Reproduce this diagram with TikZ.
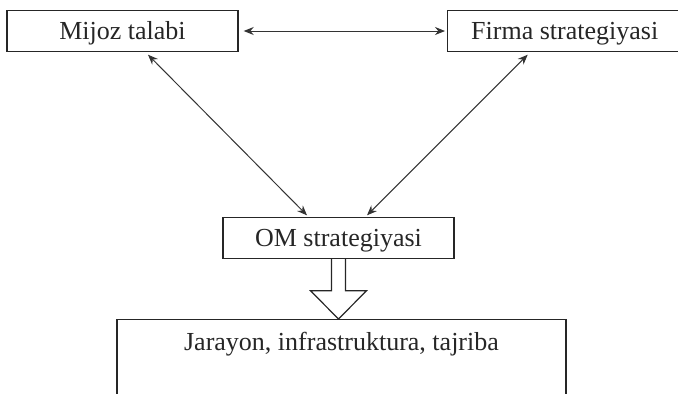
\documentclass[tikz,border=0pt]{standalone}
\usepackage{fontspec}
\setmainfont{Liberation Serif}
\usetikzlibrary{calc,arrows.meta}
\tikzset{
	blok/.style={draw=black!85, line width=0.7pt, rectangle, minimum width=115.5pt, minimum height=20.5pt, inner sep=0pt, text height=10.6pt, text depth=2pt, text=black!85, font=\fontsize{13}{15}\selectfont},
	strelka/.style={line width=0.5pt, draw=black!80, {Stealth[length=5pt,width=4pt]}-{Stealth[length=5pt,width=4pt]}}
}

\begin{document}
\begin{tikzpicture}[x=0.5pt, y=-0.5pt]
		%%%%% START %%%%%
		
		\useasboundingbox (0, 0) rectangle (678, 393);
		
		\node[blok] (mijoz) at (122.5, 31) {Mijoz talabi};
		\node[blok, anchor=west, minimum width=117pt] (firma) at (447, 31) {Firma strategiyasi};
		\node[blok] (om) at (338.5, 238) {OM strategiyasi};
		
		\node[blok, anchor=north, minimum width=224.5pt, inner ysep=5.5pt, text height=10pt, text depth=40pt] (jarayon) at (341.5, 319) {Jarayon, infrastruktura, tajriba};
		
		\draw[strelka] ($(mijoz.east)+(5, 0)$) -- ($(firma.west)+(-2, 0)$);
		\draw[strelka] ($(mijoz.south)+(25.5, 2.5)$) -- ($(om.north)+(-31.5, -1.5)$);
		\draw[strelka] ($(firma.south)+(-37, 2.5)$) -- ($(om.north)+(28.5, -1.5)$);
		
		\draw[line width=0.6pt, color=black!85] ($(om.south)+(-7, 0)$) -- ++(0, 31.5) -- ++(-21, 0) -- (om.south |- jarayon.north) -- ($(om.south)+(28, 31.5)$) -- ++(-21, 0) -- ++(0, -31.5);
		
		%%%%% END %%%%%
\end{tikzpicture}
\end{document}
